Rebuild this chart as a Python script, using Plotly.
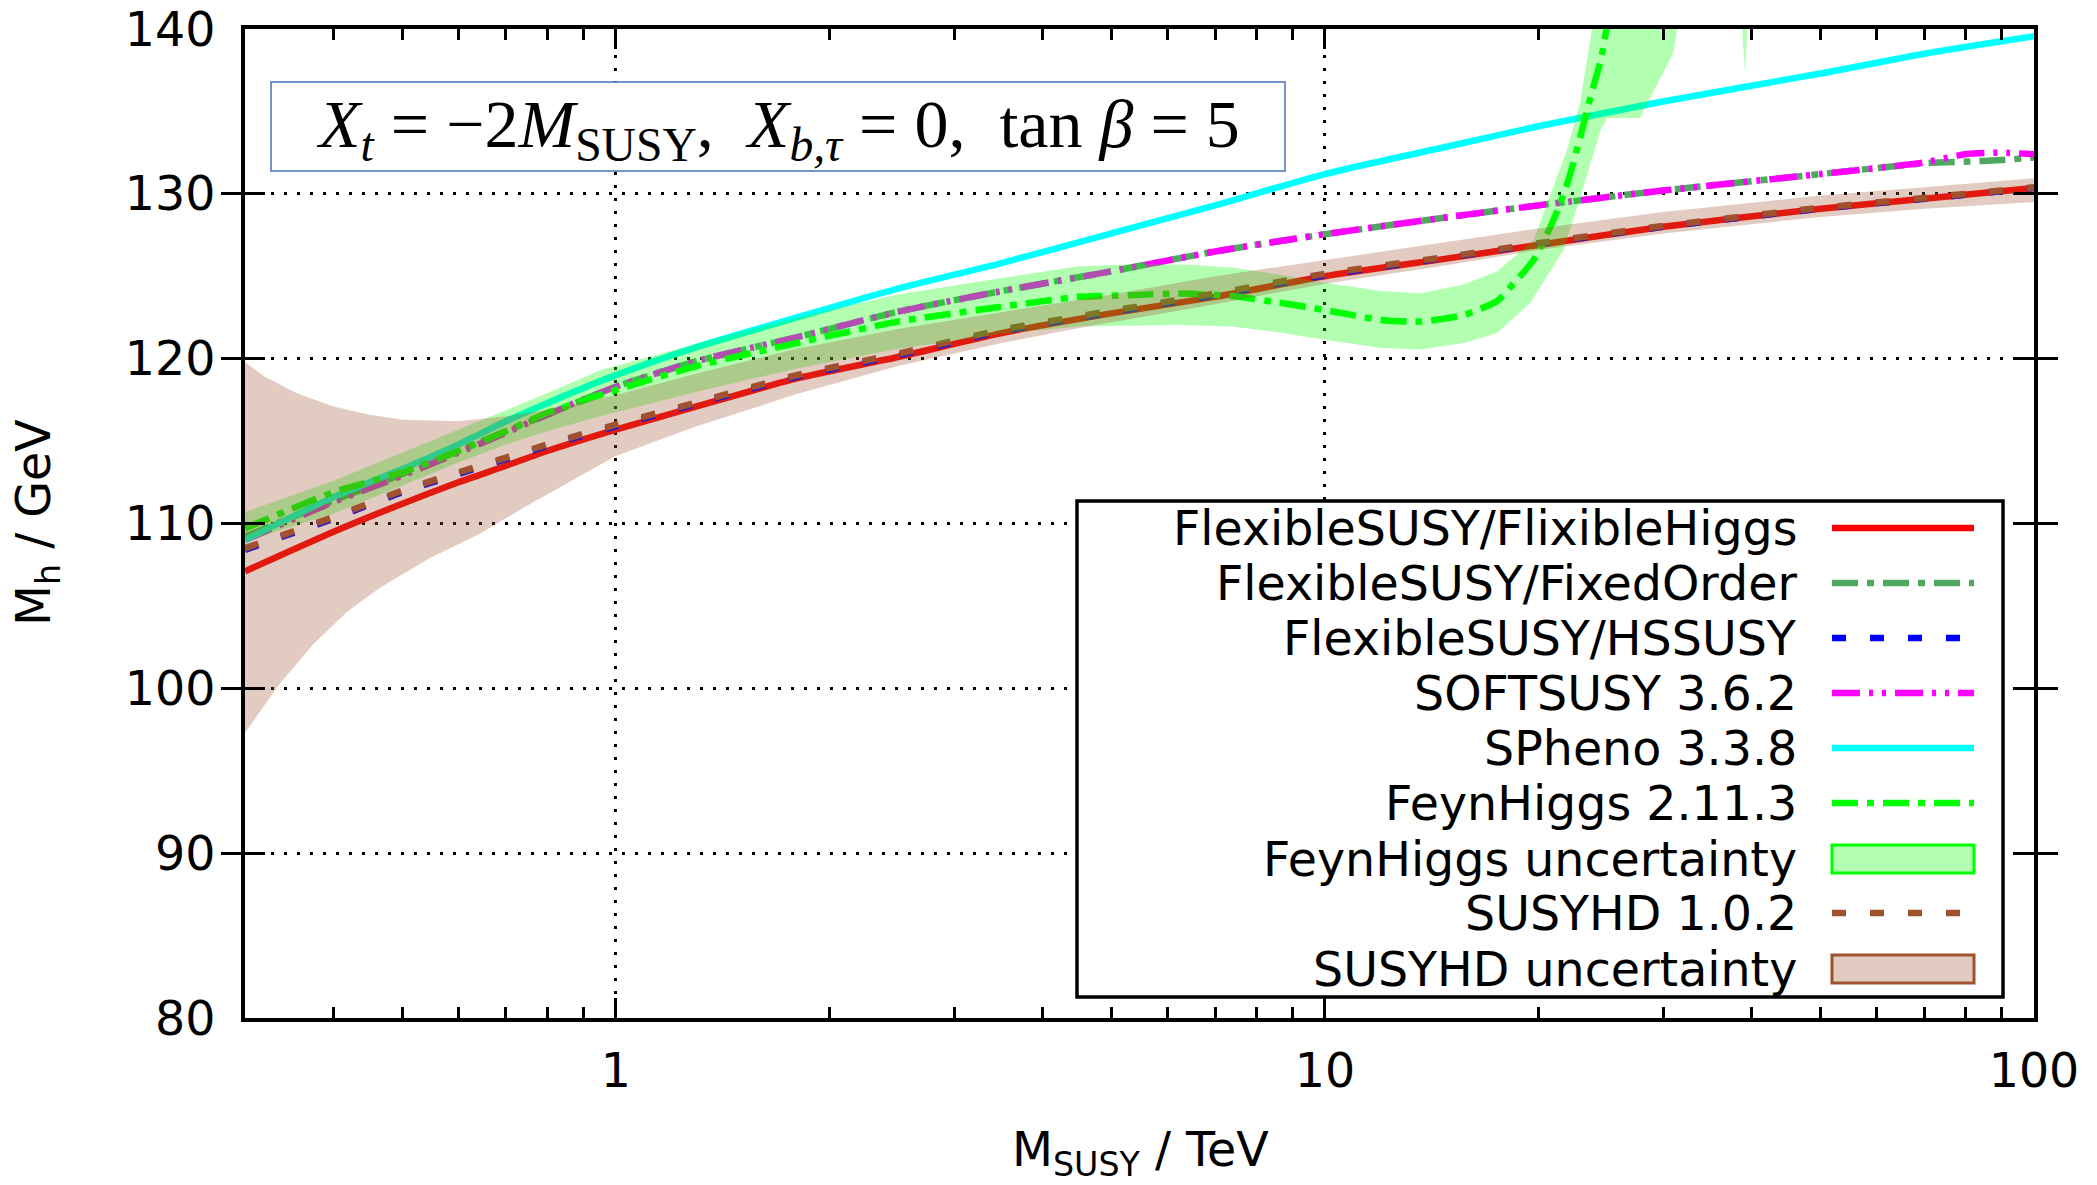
import plotly.graph_objects as go

# ---------------- data: M_h [GeV] versus M_SUSY [TeV] ----------------
x_std = [0.3, 0.4, 0.5, 0.6, 0.7, 0.8, 1.0, 1.3, 1.8, 2.5, 3.5, 5, 7, 10, 15, 20, 30, 50, 70, 100]

fs_flexiblehiggs = [107.1, 109.5, 111.2, 112.5, 113.5, 114.4, 115.7, 117.1, 118.8, 120.1, 121.55,
                    122.75, 123.75, 125.0, 126.1, 126.9, 128.0, 129.1, 129.7, 130.35]
fs_hssusy = [108.4, 110.3, 111.9, 113.0, 113.9, 114.7, 115.9, 117.25, 118.9, 120.2, 121.65,
             122.8, 123.85, 125.05, 126.15, 126.95, 128.0, 129.1, 129.7, 130.35]
susyhd = [108.5, 110.4, 112.0, 113.1, 114.0, 114.8, 116.0, 117.35, 119.0, 120.3, 121.75,
          122.9, 123.95, 125.15, 126.2, 127.0, 128.05, 129.15, 129.75, 130.4]
spheno = [109.0, 111.6, 113.3, 114.8, 116.2, 117.3, 119.0, 120.7, 122.5, 124.25, 125.8,
          127.6, 129.3, 131.2, 132.9, 134.1, 135.6, 137.3, 138.5, 139.56]

x_ss = [0.3, 0.4, 0.5, 0.6, 0.7, 0.8, 1.0, 1.3, 1.8, 2.5, 3.5, 5, 7, 10, 15, 20, 30, 50, 70, 80, 90, 100]
softsusy = [109.0, 111.3, 112.9, 114.3, 115.5, 116.6, 118.3, 119.85, 121.3, 122.85, 124.1,
            125.3, 126.5, 127.55, 128.6, 129.3, 130.2, 131.2, 131.9, 132.4, 132.5, 132.4]
fs_fixedorder = [109.2, 111.4, 113.0, 114.4, 115.6, 116.6, 118.3, 119.85, 121.3, 122.85, 124.1,
                 125.3, 126.5, 127.55, 128.6, 129.3, 130.2, 131.2, 131.85, 131.95, 132.05, 132.2]

x_fh = [0.3, 0.4, 0.5, 0.6, 0.7, 0.8, 0.95, 1.3, 1.8, 2.5, 3.5, 4.5, 5.3, 6.2, 7.4, 8.6, 10,
        12, 13.6, 15.7, 17.5, 18.4, 19.7, 21.0, 22.0, 22.9, 23.7, 24.5, 25.3]
feynhiggs = [109.7, 111.9, 113.1, 114.4, 115.6, 116.7, 117.8, 119.55, 120.95, 122.25, 123.15,
             123.75, 123.85, 123.95, 123.8, 123.4, 122.95, 122.35, 122.25, 122.65, 123.5,
             124.5, 126.0, 128.4, 130.7, 133.4, 135.9, 138.15, 141.5]

# FeynHiggs uncertainty band (upper and lower edges)
x_fh_up = [0.3, 0.4, 0.5, 0.6, 0.7, 0.8, 0.95, 1.3, 1.8, 2.5, 3.5, 4.5, 5.5, 6.5, 7.5, 8.6, 10,
           12, 13.6, 15.7, 17.5, 19.7, 21.96, 22.9, 23.8, 25, 40]
fh_up = [110.7, 112.6, 114.3, 115.7, 116.9, 117.9, 119.3, 120.9, 122.5, 123.9, 124.9, 125.6,
         125.75, 125.7, 125.5, 125.1, 124.6, 124.1, 123.95, 124.5, 125.3, 127.2, 132.7, 135.5,
         140.0, 150, 150]
x_fh_lo = [0.3, 0.4, 0.5, 0.6, 0.7, 0.8, 0.95, 1.3, 1.8, 2.5, 3.5, 4.5, 6.2, 7.4, 8.6, 10,
           12, 13.6, 15.7, 17.5, 19.5, 21.7, 23.0, 24.5, 25, 27.8, 31.0, 31.5, 33, 37, 38.7,
           39.1, 39.5, 40]
fh_lo = [108.9, 110.6, 112.3, 113.7, 114.8, 115.6, 116.5, 118.0, 119.4, 120.6, 121.5, 121.95,
         122.05, 121.95, 121.6, 121.15, 120.65, 120.55, 120.95, 121.55, 123.4, 126.6, 130.0,
         133.9, 134.6, 134.6, 138.55, 140.5, 146, 146, 140.5, 137.4, 140.5, 146]

# SUSYHD uncertainty band (upper and lower edges)
x_hd_up = [0.3, 0.32, 0.355, 0.4, 0.45, 0.5, 0.6, 0.7, 0.8, 1.0, 1.3, 1.8, 2.5, 3.5, 5, 7, 10,
           15, 20, 30, 50, 70, 100]
hd_up = [119.8, 118.9, 117.9, 117.1, 116.6, 116.3, 116.2, 116.5, 116.9, 117.8, 119.1, 120.6,
         121.8, 122.8, 123.9, 125.0, 126.0, 127.1, 127.9, 128.9, 129.9, 130.4, 130.95]
x_hd_lo = [0.3, 0.336, 0.375, 0.418, 0.465, 0.547, 0.644, 0.758, 1.0, 1.3, 1.8, 2.5, 3.5, 4.5,
           7, 10, 15, 20, 30, 50, 70, 100]
hd_lo = [97.3, 100.3, 102.7, 104.65, 106.1, 107.9, 109.4, 111.2, 114.1, 115.9, 117.85, 119.55,
         120.95, 121.86, 123.3, 124.55, 125.7, 126.6, 127.6, 128.6, 129.1, 129.5]

x_ticks = [1, 10, 100]
x_minor = [0.4, 0.5, 0.6, 0.7, 0.8, 0.9, 2, 3, 4, 5, 6, 7, 8, 9,
           20, 30, 40, 50, 60, 70, 80, 90]
y_ticks = [80, 90, 100, 110, 120, 130, 140]
X_RANGE_LOG = [-0.5228787, 2]   # 0.3 ... 100 TeV
Y_MIN, Y_MAX = 80, 140

# ---------------- styling ----------------
W, H = 2097, 1185
PL, PR, PT, PB = 245, 2034, 29, 1018
FONT = "DejaVu Sans"
FS = 47.5


def px(X):
    return (X - PL) / (PR - PL)


def py(Y):
    return (PB - Y) / (PB - PT)


series = [
    ("FlexibleSUSY/FlixibleHiggs", x_std, fs_flexiblehiggs, "#ff0000", "solid"),
    ("FlexibleSUSY/FixedOrder", x_ss, fs_fixedorder, "#50a860", "26px,9px,7px,9px"),
    ("FlexibleSUSY/HSSUSY", x_std, fs_hssusy, "#0000ff", "14px,24px"),
    ("SOFTSUSY 3.6.2", x_ss, softsusy, "#ff00ff", "28px,9px,4px,9px,4px,9px"),
    ("SPheno 3.3.8", x_std, spheno, "#00ffff", "solid"),
    ("FeynHiggs 2.11.3", x_fh, feynhiggs, "#00ff00", "26px,9px,7px,9px"),
    ("SUSYHD 1.0.2", x_std, susyhd, "#a0522d", "14px,24px"),
]

fig = go.Figure()

for name, xs, ys, col, dash in series:
    fig.add_trace(go.Scatter(
        x=xs, y=ys, mode="lines", name=name, showlegend=False,
        line=dict(color=col, width=6.5, dash=dash, shape="spline", smoothing=0.6),
    ))

# uncertainty bands, drawn translucent over the curves
fig.add_trace(go.Scatter(
    x=x_fh_up + x_fh_lo[::-1], y=fh_up + fh_lo[::-1], mode="lines", fill="toself",
    fillcolor="rgba(0,255,0,0.3)", line=dict(width=0), showlegend=False,
    name="FeynHiggs uncertainty", hoverinfo="skip",
))
fig.add_trace(go.Scatter(
    x=x_hd_up + x_hd_lo[::-1], y=hd_up + hd_lo[::-1], mode="lines", fill="toself",
    fillcolor="rgba(160,82,45,0.3)", line=dict(width=0), showlegend=False,
    name="SUSYHD uncertainty", hoverinfo="skip",
))
# empty traces that keep the minor-tick axes alive
for xa in ("x2", "x3"):
    fig.add_trace(go.Scatter(x=[], y=[], xaxis=xa, yaxis="y", showlegend=False,
                             hoverinfo="skip"))

shapes = []
annotations = []

# parameter box
shapes.append(dict(type="rect", xref="paper", yref="paper",
                   x0=px(271), x1=px(1285), y0=py(171), y1=py(82),
                   fillcolor="white", line=dict(color="#4a6fb5", width=1.5), layer="above"))
annotations.append(dict(
    xref="paper", yref="paper", x=px(778), y=py(128), xanchor="center", yanchor="middle",
    showarrow=False,
    text="<i>X<sub>t</sub></i> = −2<i>M</i><sub>SUSY</sub>,  <i>X<sub>b,τ</sub></i> = 0,  tan <i>β</i> = 5",
    font=dict(family="Liberation Serif", size=68, color="black"),
))

# key box
shapes.append(dict(type="rect", xref="paper", yref="paper",
                   x0=px(1077), x1=px(2003), y0=py(997), y1=py(501),
                   fillcolor="white", line=dict(color="black", width=3.5), layer="above"))

row_y = [528, 583, 638, 693, 748, 803, 859, 913, 969]
key_entries = [
    ("FlexibleSUSY/FlixibleHiggs", "line", "#ff0000", "solid"),
    ("FlexibleSUSY/FixedOrder", "line", "#50a860", "26px,9px,7px,9px"),
    ("FlexibleSUSY/HSSUSY", "line", "#0000ff", "14px,24px"),
    ("SOFTSUSY 3.6.2", "line", "#ff00ff", "28px,9px,4px,9px,4px,9px"),
    ("SPheno 3.3.8", "line", "#00ffff", "solid"),
    ("FeynHiggs 2.11.3", "line", "#00ff00", "26px,9px,7px,9px"),
    ("FeynHiggs uncertainty", "box", ("rgba(0,255,0,0.3)", "#00ff00"), None),
    ("SUSYHD 1.0.2", "line", "#a0522d", "14px,24px"),
    ("SUSYHD uncertainty", "box", ("rgba(160,82,45,0.3)", "#a0522d"), None),
]
for (label, kind, col, dash), Y in zip(key_entries, row_y):
    annotations.append(dict(
        xref="paper", yref="paper", x=px(1799), y=py(Y), xanchor="right", yanchor="middle",
        showarrow=False, text=label, font=dict(family=FONT, size=FS, color="black"),
    ))
    if kind == "line":
        shapes.append(dict(type="line", xref="paper", yref="paper",
                           x0=px(1832), x1=px(1974), y0=py(Y), y1=py(Y),
                           line=dict(color=col, width=6.5, dash=dash), layer="above"))
    else:
        shapes.append(dict(type="rect", xref="paper", yref="paper",
                           x0=px(1832), x1=px(1974), y0=py(Y + 14), y1=py(Y - 14),
                           fillcolor=col[0], line=dict(color=col[1], width=3), layer="above"))

# axis titles
annotations.append(dict(
    xref="paper", yref="paper", x=px(1140), y=py(1153), xanchor="center", yanchor="middle",
    showarrow=False, text="M<sub>SUSY</sub> / TeV", font=dict(family=FONT, size=FS, color="black"),
))
annotations.append(dict(
    xref="paper", yref="paper", x=px(37), y=py(523), xanchor="center", yanchor="middle",
    showarrow=False, text="M<sub>h</sub> / GeV", textangle=-90,
    font=dict(family=FONT, size=FS, color="black"),
))

axis_common = dict(
    showline=True, linecolor="black", linewidth=4, mirror="allticks",
    ticks="inside", ticklen=20, tickwidth=3, tickcolor="black",
    showgrid=True, gridcolor="black", gridwidth=3, griddash="3px,10px",
    zeroline=False, tickfont=dict(family=FONT, size=FS, color="black"),
)

# overlay axes carrying the short minor ticks at 2..9 of every decade
minor_axis = dict(
    type="log", range=X_RANGE_LOG, overlaying="x", anchor="y",
    tickmode="array", tickvals=x_minor, ticks="inside", ticklen=11, tickwidth=3,
    tickcolor="black", showticklabels=False, showgrid=False, zeroline=False,
    showline=True, linecolor="black", linewidth=4,
)

fig.update_layout(
    xaxis=dict(type="log", range=X_RANGE_LOG, tickmode="array", tickvals=x_ticks,
               ticktext=["1", "10", "100"], ticklabelstandoff=8, **axis_common),
    xaxis2=dict(side="bottom", **minor_axis),
    xaxis3=dict(side="top", **minor_axis),
    yaxis=dict(range=[Y_MIN, Y_MAX], tickmode="array", tickvals=y_ticks,
               ticklabelstandoff=16, **axis_common),
    width=W, height=H,
    margin=dict(l=PL, r=W - PR, t=PT, b=H - PB, autoexpand=False),
    paper_bgcolor="white", plot_bgcolor="white",
    shapes=shapes, annotations=annotations, showlegend=False,
)

fig.write_html("out.html")
